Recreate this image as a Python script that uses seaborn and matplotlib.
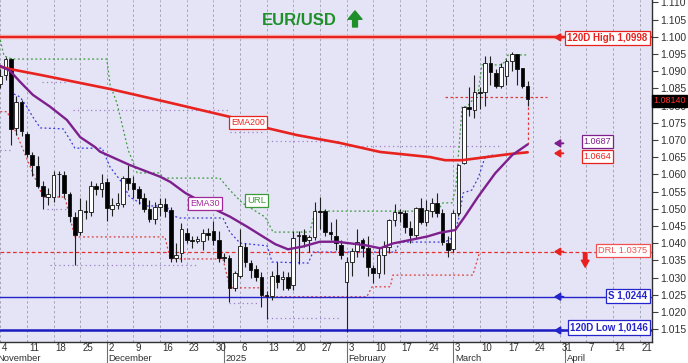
import numpy as np
import pandas as pd
import matplotlib
matplotlib.use('Agg')
import matplotlib.pyplot as plt
import matplotlib.transforms as mtransforms
import seaborn as sns

sns.set_style('white')
plt.rcParams['font.family'] = ['Liberation Sans', 'DejaVu Sans']

# daily EUR/USD candles, one per business day from Nov 4 2024 to Mar 21 2025
start_day = '2024-11-04'
opens = [1.0862, 1.0890, 1.0935, 1.0736, 1.0809, 1.0716, 1.0655, 1.0625, 1.0565, 1.0535,
         1.0535, 1.0600, 1.0599, 1.0544, 1.0477, 1.0432, 1.0494, 1.0491, 1.0567, 1.0558,
         1.0579, 1.0500, 1.0512, 1.0515, 1.0590, 1.0575, 1.0558, 1.0532, 1.0500, 1.0470,
         1.0505, 1.0514, 1.0497, 1.0357, 1.0370, 1.0430, 1.0410, 1.0405, 1.0405, 1.0430,
         1.0435, 1.0410, 1.0360, 1.0357, 1.0270, 1.0305, 1.0389, 1.0343, 1.0325, 1.0302,
         1.0249, 1.0246, 1.0308, 1.0297, 1.0302, 1.0277, 1.0420, 1.0425, 1.0410, 1.0418,
         1.0494, 1.0494, 1.0433, 1.0421, 1.0395, 1.0287, 1.0345, 1.0377, 1.0410, 1.0386,
         1.0328, 1.0314, 1.0365, 1.0390, 1.0466, 1.0491, 1.0488, 1.0445, 1.0424, 1.0503,
         1.0462, 1.0492, 1.0517, 1.0488, 1.0401, 1.0382, 1.0488, 1.0632, 1.0797, 1.0786,
         1.0838, 1.0838, 1.0923, 1.0894, 1.0856, 1.0885, 1.0929, 1.0949, 1.0908, 1.0856]
highs = [1.0905, 1.0940, 1.0937, 1.0827, 1.0815, 1.0722, 1.0665, 1.0653, 1.0580, 1.0560,
         1.0610, 1.0610, 1.0610, 1.0550, 1.0490, 1.0532, 1.0525, 1.0580, 1.0575, 1.0600,
         1.0590, 1.0530, 1.0545, 1.0595, 1.0628, 1.0595, 1.0565, 1.0545, 1.0525, 1.0520,
         1.0530, 1.0530, 1.0505, 1.0400, 1.0458, 1.0445, 1.0420, 1.0420, 1.0440, 1.0445,
         1.0463, 1.0435, 1.0370, 1.0365, 1.0320, 1.0440, 1.0400, 1.0350, 1.0335, 1.0315,
         1.0260, 1.0320, 1.0345, 1.0320, 1.0315, 1.0435, 1.0435, 1.0440, 1.0425, 1.0520,
         1.0535, 1.0500, 1.0460, 1.0470, 1.0410, 1.0360, 1.0385, 1.0440, 1.0415, 1.0420,
         1.0335, 1.0385, 1.0405, 1.0470, 1.0515, 1.0500, 1.0495, 1.0465, 1.0505, 1.0530,
         1.0525, 1.0530, 1.0545, 1.0500, 1.0420, 1.0495, 1.0630, 1.0800, 1.0855, 1.0890,
         1.0855, 1.0945, 1.0945, 1.0905, 1.0925, 1.0935, 1.0955, 1.0950, 1.0910, 1.0870]
lows = [1.0850, 1.0875, 1.0685, 1.0715, 1.0710, 1.0650, 1.0595, 1.0560, 1.0500, 1.0510,
        1.0520, 1.0535, 1.0530, 1.0460, 1.0337, 1.0425, 1.0470, 1.0480, 1.0540, 1.0535,
        1.0463, 1.0480, 1.0500, 1.0505, 1.0555, 1.0530, 1.0515, 1.0490, 1.0460, 1.0455,
        1.0480, 1.0475, 1.0345, 1.0345, 1.0345, 1.0400, 1.0385, 1.0400, 1.0380, 1.0410,
        1.0395, 1.0345, 1.0345, 1.0229, 1.0260, 1.0300, 1.0330, 1.0300, 1.0290, 1.0215,
        1.0180, 1.0235, 1.0270, 1.0265, 1.0265, 1.0265, 1.0340, 1.0390, 1.0375, 1.0410,
        1.0440, 1.0420, 1.0410, 1.0380, 1.0355, 1.0141, 1.0305, 1.0360, 1.0360, 1.0305,
        1.0285, 1.0300, 1.0310, 1.0370, 1.0450, 1.0460, 1.0430, 1.0400, 1.0415, 1.0455,
        1.0450, 1.0475, 1.0475, 1.0395, 1.0360, 1.0375, 1.0480, 1.0630, 1.0770, 1.0765,
        1.0790, 1.0800, 1.0860, 1.0850, 1.0850, 1.0860, 1.0900, 1.0860, 1.0850, 1.0800]
closes = [1.0885, 1.0935, 1.0733, 1.0811, 1.0725, 1.0658, 1.0628, 1.0567, 1.0536, 1.0544,
          1.0599, 1.0602, 1.0547, 1.0480, 1.0424, 1.0497, 1.0490, 1.0567, 1.0558, 1.0576,
          1.0503, 1.0512, 1.0518, 1.0590, 1.0575, 1.0558, 1.0532, 1.0500, 1.0471, 1.0506,
          1.0514, 1.0494, 1.0357, 1.0364, 1.0440, 1.0410, 1.0405, 1.0412, 1.0428, 1.0425,
          1.0410, 1.0357, 1.0357, 1.0270, 1.0313, 1.0392, 1.0345, 1.0322, 1.0302, 1.0249,
          1.0245, 1.0305, 1.0287, 1.0301, 1.0270, 1.0415, 1.0425, 1.0406, 1.0418, 1.0494,
          1.0490, 1.0433, 1.0427, 1.0401, 1.0366, 1.0345, 1.0377, 1.0403, 1.0386, 1.0331,
          1.0313, 1.0365, 1.0390, 1.0468, 1.0491, 1.0488, 1.0448, 1.0424, 1.0503, 1.0462,
          1.0497, 1.0517, 1.0488, 1.0404, 1.0380, 1.0488, 1.0628, 1.0795, 1.0789, 1.0838,
          1.0836, 1.0923, 1.0897, 1.0856, 1.0911, 1.0929, 1.0949, 1.0905, 1.0856, 1.0820]

# indicator lines (x = business-day number from Nov 4)
ema200_x = [0, 1.8, 7.5, 20.6, 31.3, 43.1, 49.9, 55.7, 63.8, 71.3, 80.7, 83.5, 86.7, 95.7, 99]
ema200_y = [1.0913, 1.0906, 1.0889, 1.0848, 1.0810, 1.0767, 1.0735, 1.0714, 1.0691, 1.0665,
            1.0650, 1.0641, 1.0641, 1.0659, 1.0664]
ema30_x = [0, 1.8, 3.7, 6.1, 9.3, 12.5, 15.0, 17.8, 18.7, 24.3, 30.0, 31.9, 34.7, 41.2, 43.1,
           46.3, 49.3, 51.6, 54.0, 56.8, 60.0, 63.2, 68.5, 71.3, 73.7, 76.9, 80.1, 82.5, 85.4,
           87.2, 89.7, 92.9, 96.1, 99]
ema30_y = [1.0915, 1.0901, 1.0869, 1.0831, 1.0797, 1.0758, 1.0708, 1.0679, 1.0666, 1.0627,
           1.0593, 1.0578, 1.0546, 1.0491, 1.0477, 1.0448, 1.0419, 1.0397, 1.0382, 1.0390,
           1.0404, 1.0404, 1.0394, 1.0385, 1.0399, 1.0409, 1.0419, 1.0430, 1.0438, 1.0477,
           1.0535, 1.0603, 1.0656, 1.0687]
url_x = [0, 0.7, 2.2, 20.0, 20.6, 21.9, 24.0, 25.7, 30.0, 30.5, 41.2, 43.1, 45.4, 49.7, 51.2,
         58.1, 59.1, 82.0, 83.1, 84.8, 85.5, 86.7, 87.6, 89.7, 90.4, 93.8, 94.7, 95.3, 99.0]
url_y = [1.0990, 1.0944, 1.0935, 1.0935, 1.0860, 1.0807, 1.0671, 1.0604, 1.0604, 1.0589,
         1.0589, 1.0554, 1.0517, 1.0476, 1.0432, 1.0432, 1.0493, 1.0493, 1.0517, 1.0517,
         1.0560, 1.0796, 1.0796, 1.0836, 1.0918, 1.0918, 1.0926, 1.0947, 1.0947]
drl_x = [0, 1.3, 8.0, 12.1, 14.0, 30.9, 31.9, 41.8, 43.1, 48.8, 49.1, 68.8, 69.8, 73.2, 73.7,
         88.7, 90.0]
drl_y = [1.0782, 1.0782, 1.0534, 1.0534, 1.0418, 1.0418, 1.0354, 1.0354, 1.0270, 1.0270,
         1.0244, 1.0244, 1.0273, 1.0273, 1.0307, 1.0307, 1.0375]
band_x = [1.8, 3.7, 5.0, 6.1, 7.5, 11.8, 13.1, 14.0, 19.1, 20.6, 22.5, 24.3, 26.2, 27.2, 31.3,
          31.9, 33.7, 41.8, 43.1, 45.0, 50.1, 51.0, 57.8, 58.7, 74.1, 75.0, 83.5, 84.8, 86.0,
          86.9, 88.5, 89.7, 91.0, 92.5]
band_y = [1.0839, 1.0825, 1.0796, 1.0767, 1.0735, 1.0732, 1.0700, 1.0676, 1.0676, 1.0621,
          1.0583, 1.0534, 1.0517, 1.0508, 1.0508, 1.0482, 1.0473, 1.0473, 1.0432, 1.0400,
          1.0392, 1.0345, 1.0342, 1.0374, 1.0374, 1.0403, 1.0403, 1.0415, 1.0467, 1.0546,
          1.0554, 1.0589, 1.0650, 1.0656]
dotted_levels = [1.0868, 1.0788, 1.0724, 1.0698, 1.0681, 1.0671, 1.0498, 1.0336, 1.0227, 1.0181]
dotted_from = [7.8, 13.6, 43.1, 50.1, 63.8, 0.0, 8.8, 9.3, 43.0, 50.0]
dotted_to = [12.5, 43.1, 49.1, 63.8, 94.2, 2.4, 12.5, 37.0, 48.2, 63.8]
mark_x = [83.5, 102.6]
mark_y = [1.0826, 1.0826]
drop_x = [99, 99]
drop_y = [1.0826, 1.0687]

high_120 = 1.0998
low_120 = 1.0146
support = 1.0244
drl_level = 1.0375
ema30_last = 1.0687
ema200_last = 1.0664
last_price = 1.08140

month_names = ['November', 'December', '2025', 'February', 'March', 'April']
month_firsts = ['2024-11-01', '2024-12-02', '2025-01-01', '2025-02-03', '2025-03-03', '2025-04-01']

red = '#e8221e'
purple = '#7d1f8c'
blue = '#2424cc'
green = '#1f8f2a'

fig = plt.figure(figsize=(6.88, 3.63), dpi=100)
fig.patch.set_facecolor('white')
ax = fig.add_axes([0, 21.3 / 363, 652 / 688, 341.7 / 363])
ax.set_facecolor('#E4E4F6')

# candles
o = np.array(opens); c = np.array(closes); h = np.array(highs); l = np.array(lows)
idx = np.arange(len(c))
ax.vlines(idx, l, h, color='#202020', lw=0.8, zorder=4)
body_lo = np.minimum(o, c)
body_h = np.maximum(np.abs(c - o), 0.00012)
body_col = np.where(c >= o, 'white', 'black')
ax.bar(idx, body_h, bottom=body_lo, width=0.68, color=body_col, edgecolor='#101010',
       linewidth=0.6, zorder=5)

# dotted guides
for lev, a, b in zip(dotted_levels, dotted_from, dotted_to):
    ax.plot([a, b], [lev, lev], color='#a080c8', lw=0.9, ls=(0, (1, 2.5)), zorder=2)
sns.lineplot(x=url_x, y=url_y, ax=ax, color='#3c9a3c', lw=0.9, ls=(0, (1.5, 2)),
             estimator=None, sort=False, zorder=2)
sns.lineplot(x=drl_x, y=drl_y, ax=ax, color='#e03a3a', lw=0.9, ls=(0, (1.5, 2)),
             estimator=None, sort=False, zorder=2)
sns.lineplot(x=band_x, y=band_y, ax=ax, color='#3a3ae0', lw=0.9, ls=(0, (1.5, 2)),
             estimator=None, sort=False, zorder=2)
sns.lineplot(x=mark_x, y=mark_y, ax=ax, color='#e03a3a', lw=0.9, ls=(0, (2, 2)),
             estimator=None, sort=False, zorder=2)
sns.lineplot(x=drop_x, y=drop_y, ax=ax, color='#e03a3a', lw=0.9, ls=(0, (2, 2)),
             estimator=None, sort=False, zorder=2)

# horizontal levels
ax.axhline(high_120, color='#f5a8a8', lw=3.2, zorder=3)
ax.axhline(high_120, color=red, lw=1.5, zorder=3)
ax.axhline(drl_level, color='#e83030', lw=0.9, ls=(0, (3, 2)), zorder=3)
ax.axhline(support, color=blue, lw=1.0, zorder=3)
ax.axhline(low_120, color='#1a1ac0', lw=1.8, zorder=3)

# moving averages
sns.lineplot(x=ema200_x, y=ema200_y, ax=ax, color=red, lw=1.9, estimator=None, sort=False, zorder=6)
sns.lineplot(x=ema30_x, y=ema30_y, ax=ax, color=purple, lw=1.7, estimator=None, sort=False, zorder=6)

# axes
ax.set_xlim(-0.06, 122.34)
ax.set_ylim(1.01134, 1.11067)
mondays = pd.date_range(start_day, '2025-04-21', freq='W-MON')
tick_pos = np.arange(len(mondays)) * 5
ax.set_xticks(tick_pos)
ax.set_xticklabels([])
ax.grid(axis='x', color='#a4a4b4', lw=0.7, ls=(0, (2.5, 2.5)))
ax.grid(axis='y', visible=False)
ax.tick_params(axis='x', length=8, width=0.8, color='#707070', direction='out')
ax.yaxis.tick_right()
ax.set_yticks(np.arange(1.015, 1.1101, 0.005))
ax.set_yticklabels([f'{v:.3f}' for v in np.arange(1.015, 1.1101, 0.005)])
ax.tick_params(axis='y', length=4, width=0.8, color='#404040', labelsize=7.5,
               labelcolor='#303030', pad=2)
for s in ['top', 'left']:
    ax.spines[s].set_visible(False)
for s in ['bottom', 'right']:
    ax.spines[s].set_color('#303030')
    ax.spines[s].set_linewidth(1.0)

xt = ax.get_xaxis_transform()
for p, d in zip(tick_pos, mondays):
    ax.text(p + 0.35, -0.017, str(d.day), transform=xt, ha='left', va='center',
            fontsize=7, color='#303030', clip_on=False)
for name, first in zip(month_names, month_firsts):
    p = np.busday_count(start_day, first)
    ax.plot([p, p], [0, -0.07], transform=xt, color='#707070', lw=0.8, clip_on=False)
    ax.text(p + 0.35, -0.049, name, transform=xt, ha='left', va='center',
            fontsize=6.8, color='#303030', clip_on=False)

# title
ax.text(0.459, 0.941, 'EUR/USD', transform=ax.transAxes, ha='center', va='center',
        fontsize=12, fontweight='bold', color=green)
ax.annotate('', xy=(0.5445, 0.968), xytext=(0.5445, 0.921), xycoords='axes fraction',
            arrowprops=dict(arrowstyle='simple,head_width=1.0,head_length=0.6,tail_width=0.35',
                            color=green, mutation_scale=10, shrinkA=0, shrinkB=0))

# indicator tags on the lines
def tag(x, y, s, col, size=6.5, bold=False, ha='center'):
    ax.text(x, y, s, ha=ha, va='center', fontsize=size, color=col, zorder=8,
            fontweight='bold' if bold else 'normal',
            bbox=dict(boxstyle='square,pad=0.22', fc='white', ec=col, lw=0.9))

tag(46.5, 1.0751, 'EMA200', red, 6.3)
tag(38.4, 1.0514, 'EMA30', '#a0289a', 6.5)
tag(48.1, 1.0525, 'URL', '#3c9a3c', 6.8)

# right-hand level tags
tag(121.5, 1.0997, f'120D High {high_120:.4f}'.replace('.', ','), red, 7, True, 'right')
tag(112.1, 1.0695, f'{ema30_last:.4f}', purple, 6.5)
tag(112.1, 1.0651, f'{ema200_last:.4f}', red, 6.5)
tag(121.5, 1.0378, f'DRL {drl_level:.4f}', '#f05050', 6.7, False, 'right')
tag(121.5, 1.0247, f'S {support:.4f}'.replace('.', ','), blue, 7, True, 'right')
tag(121.5, 1.0155, f'120D Low {low_120:.4f}'.replace('.', ','), blue, 7, True, 'right')

arrow_cols = [red, purple, red, red, blue, blue]
arrow_lev = [high_120, 1.0690, 1.0661, drl_level, support, low_120]
for col, lev in zip(arrow_cols, arrow_lev):
    ax.annotate('', xy=(103.9, lev), xytext=(105.7, lev),
                arrowprops=dict(arrowstyle='-|>,head_length=0.35,head_width=0.22',
                                color=col, lw=1.4, shrinkA=0, shrinkB=0), zorder=8)
ax.annotate('', xy=(109.8, 1.0330), xytext=(109.8, 1.0372),
            arrowprops=dict(arrowstyle='simple,head_width=0.55,head_length=0.5,tail_width=0.25',
                            color='#e82020', mutation_scale=10, shrinkA=0, shrinkB=0), zorder=8)

# last price on the axis
yt = mtransforms.blended_transform_factory(ax.transAxes, ax.transData)
ax.text(1.002, last_price, f'{last_price:.5f}', transform=yt, ha='left', va='center',
        fontsize=6.5, color='#ff3030', zorder=9, clip_on=False,
        bbox=dict(boxstyle='square,pad=0.18', fc='black', ec='black'))

fig.savefig('out.png', dpi=100, facecolor='white')
